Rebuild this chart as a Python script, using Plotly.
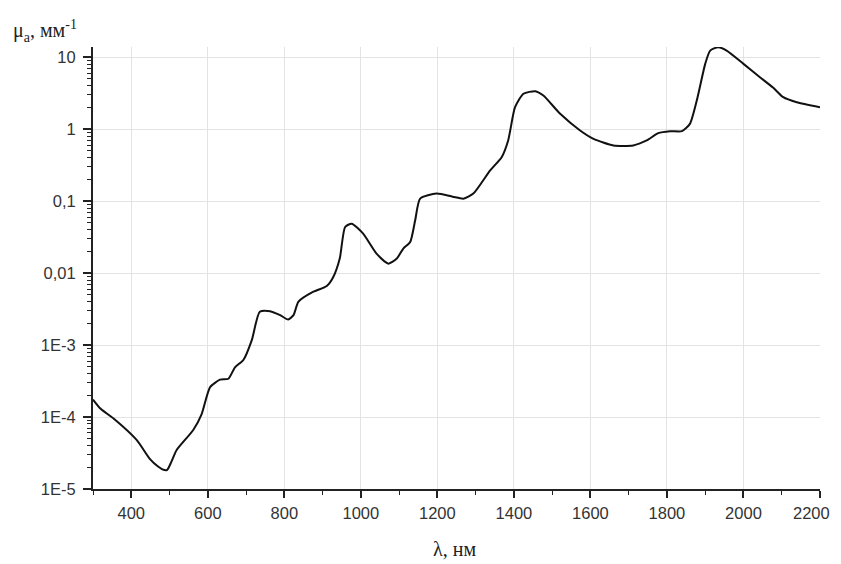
import plotly.graph_objects as go

# wavelength, nm
wavelength = [300, 320, 353, 414, 449, 470, 484, 494, 505, 519, 562, 584, 606, 632, 654, 671, 693, 715,
              736, 763, 789, 810, 824, 837, 876, 911, 928, 945, 959, 976, 1006, 1041, 1072,
              1094, 1111, 1129, 1142, 1155, 1198, 1240, 1268, 1294, 1338, 1368, 1385, 1403,
              1425, 1456, 1477, 1521, 1573, 1608, 1660, 1712, 1747, 1777, 1808, 1839, 1860,
              1878, 1900, 1913, 1934, 1956, 2000, 2043, 2078, 2104, 2139, 2200]
# absorption coefficient, 1/mm
mu_a = [1.75e-4, 1.3e-4, 9.6e-5, 4.8e-5, 2.6e-5, 2.05e-5, 1.85e-5, 1.85e-5, 2.4e-5, 3.5e-5,
        6.6e-5, 1.1e-4, 2.6e-4,
        3.3e-4, 3.4e-4, 4.9e-4, 6.2e-4, 1.17e-3, 2.9e-3, 2.95e-3, 2.6e-3, 2.26e-3, 2.6e-3,
        4.0e-3, 5.5e-3, 6.6e-3, 8.8e-3, 0.016, 0.0436, 0.0485, 0.0353, 0.0186, 0.0135,
        0.0159, 0.0219, 0.027, 0.054, 0.108, 0.127, 0.115, 0.108, 0.127, 0.267, 0.407,
        0.695, 2.01, 3.09, 3.36, 2.92, 1.63, 0.957, 0.733, 0.593, 0.593, 0.695, 0.877,
        0.935, 0.935, 1.18, 2.49, 8.05, 12.3, 13.7, 12.3, 8.05, 5.25, 3.74, 2.77, 2.36, 2.01]

x_tickvals = [400, 600, 800, 1000, 1200, 1400, 1600, 1800, 2000, 2200]
x_ticktext = ["400", "600", "800", "1000", "1200", "1400", "1600", "1800", "2000", ""]
x_last_label = "2200"
x_minor = [300, 500, 700, 900, 1100, 1300, 1500, 1700, 1900, 2100]
y_tickvals = [1e-5, 1e-4, 1e-3, 0.01, 0.1, 1, 10]
y_ticktext = ["1E-5", "1E-4", "1E-3", "0,01", "0,1", "1", "10"]
y_minor = [m * 10.0 ** e for e in range(-5, 2) for m in range(2, 10)]

fig = go.Figure()
fig.add_trace(go.Scatter(x=wavelength, y=mu_a, mode="lines",
                         line=dict(color="#111111", width=2, shape="spline", smoothing=0.6),
                         showlegend=False, hoverinfo="skip"))

tickfont = dict(family="Liberation Sans, Arial, sans-serif", size=16.5, color="#333333")
titlefont = dict(family="Liberation Serif, Times New Roman, serif", size=20, color="#222222")
fig.update_layout(
    width=841, height=556,
    margin=dict(l=85, r=29, t=39, b=75, autoexpand=False),
    paper_bgcolor="white", plot_bgcolor="white",
    xaxis=dict(range=[300, 2200], tickmode="array", tickvals=x_tickvals, ticktext=x_ticktext,
               automargin=False,
               showline=True, linecolor="#222222", linewidth=2,
               ticks="outside", ticklen=7, tickwidth=1.5, tickcolor="#222222",
               tickfont=tickfont, ticklabelstandoff=1, ticklabeloverflow="allow",
               showgrid=True, gridcolor="#e3e3e3", gridwidth=1, zeroline=False,
               minor=dict(tickmode="array", tickvals=x_minor, ticks="outside", ticklen=4,
                          tickwidth=1.2, tickcolor="#222222", showgrid=False)),
    yaxis=dict(type="log", range=[-5, 1.14], tickmode="array", automargin=False,
               tickvals=y_tickvals, ticktext=y_ticktext,
               showline=True, linecolor="#222222", linewidth=2,
               ticks="outside", ticklen=8, tickwidth=1.5, tickcolor="#222222",
               tickfont=tickfont, ticklabelstandoff=4,
               showgrid=True, gridcolor="#e3e3e3", gridwidth=1, zeroline=False,
               minor=dict(tickmode="array", tickvals=y_minor, ticks="outside", ticklen=4,
                          tickwidth=1, tickcolor="#222222", showgrid=False)),
    annotations=[
        dict(text="μ<sub>a</sub>, мм<sup>-1</sup>", xref="paper", yref="paper",
             x=-0.113, y=1.0, xanchor="left", yanchor="bottom", showarrow=False,
             font=titlefont),
        dict(text="λ, нм", xref="paper", yref="paper",
             x=0.497, y=-0.136, xanchor="center", yanchor="middle", showarrow=False,
             font=titlefont),
        dict(text=x_last_label, xref="x", yref="paper",
             x=2200, y=-0.054, xanchor="right", yanchor="middle", xshift=12,
             showarrow=False, font=tickfont),
    ],
)

fig.write_html("out.html")
